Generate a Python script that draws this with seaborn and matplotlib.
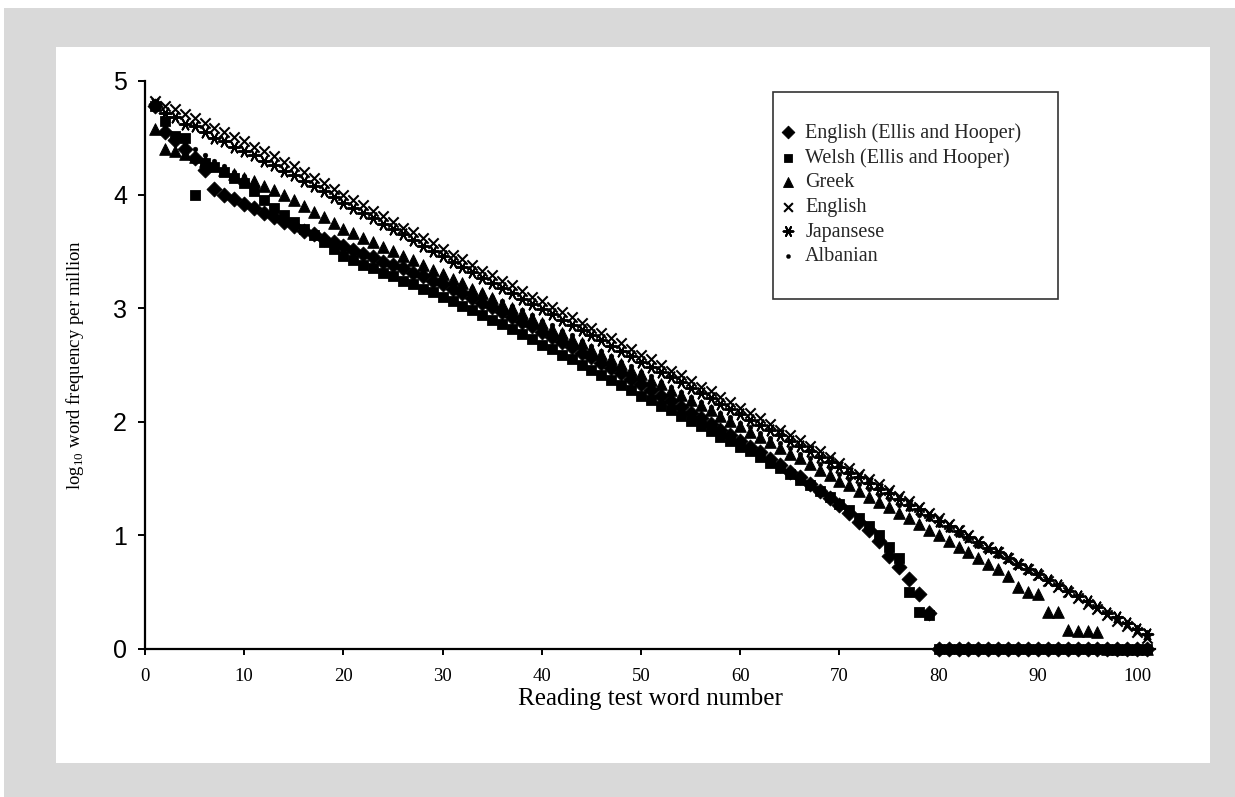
import numpy as np
import pandas as pd
import seaborn as sns
import matplotlib
matplotlib.use("Agg")
import matplotlib.pyplot as plt
from matplotlib.patches import Rectangle

# word number on the reading test
word = list(range(1, 102))

english_eh = [4.78, 4.55, 4.48, 4.40, 4.32, 4.22, 4.05, 4.00, 3.96, 3.92,
              3.88, 3.84, 3.80, 3.76, 3.72, 3.68, 3.65, 3.61, 3.58, 3.55,
              3.51, 3.48, 3.45, 3.41, 3.38, 3.35, 3.31, 3.28, 3.24, 3.21,
              3.17, 3.13, 3.09, 3.05, 3.01, 2.97, 2.92, 2.88, 2.84, 2.79,
              2.75, 2.70, 2.66, 2.61, 2.57, 2.52, 2.47, 2.43, 2.38, 2.33,
              2.28, 2.23, 2.18, 2.13, 2.08, 2.03, 1.98, 1.93, 1.88, 1.83,
              1.78, 1.73, 1.67, 1.62, 1.56, 1.51, 1.45, 1.39, 1.33, 1.27,
              1.20, 1.12, 1.05, 0.95, 0.82, 0.72, 0.62, 0.48, 0.32, 0.00,
              0.00, 0.00, 0.00, 0.00, 0.00, 0.00, 0.00, 0.00, 0.00, 0.00,
              0.00, 0.00, 0.00, 0.00, 0.00, 0.00, 0.00, 0.00, 0.00, 0.00, 0.00]

welsh_eh = [4.78, 4.65, 4.52, 4.50, 4.00, 4.28, 4.24, 4.20, 4.15, 4.10,
            4.03, 3.95, 3.88, 3.82, 3.76, 3.70, 3.64, 3.58, 3.52, 3.46,
            3.42, 3.38, 3.35, 3.31, 3.28, 3.24, 3.21, 3.17, 3.14, 3.10,
            3.06, 3.02, 2.98, 2.94, 2.90, 2.86, 2.82, 2.77, 2.73, 2.68,
            2.64, 2.59, 2.55, 2.50, 2.46, 2.41, 2.37, 2.32, 2.28, 2.23,
            2.19, 2.14, 2.10, 2.05, 2.01, 1.96, 1.92, 1.87, 1.83, 1.78,
            1.74, 1.69, 1.64, 1.59, 1.54, 1.49, 1.44, 1.39, 1.34, 1.28,
            1.22, 1.15, 1.08, 1.00, 0.90, 0.80, 0.50, 0.33, 0.30, 0.00,
            0.00, 0.00, 0.00, 0.00, 0.00, 0.00, 0.00, 0.00, 0.00, 0.00,
            0.00, 0.00, 0.00, 0.00, 0.00, 0.00, 0.00, 0.00, 0.00, 0.00, 0.00]

greek = [4.58, 4.40, 4.38, 4.36, 4.33, 4.30, 4.26, 4.22, 4.18, 4.15,
         4.12, 4.08, 4.04, 4.00, 3.95, 3.90, 3.85, 3.80, 3.75, 3.70,
         3.66, 3.62, 3.58, 3.54, 3.50, 3.46, 3.42, 3.38, 3.34, 3.30,
         3.26, 3.22, 3.17, 3.13, 3.09, 3.04, 3.00, 2.96, 2.91, 2.87,
         2.82, 2.78, 2.73, 2.69, 2.64, 2.60, 2.55, 2.51, 2.46, 2.42,
         2.37, 2.33, 2.28, 2.24, 2.19, 2.15, 2.10, 2.05, 2.01, 1.96,
         1.91, 1.87, 1.82, 1.77, 1.72, 1.68, 1.63, 1.58, 1.53, 1.48,
         1.44, 1.39, 1.34, 1.29, 1.25, 1.20, 1.15, 1.10, 1.05, 1.00,
         0.95, 0.90, 0.85, 0.80, 0.75, 0.70, 0.64, 0.55, 0.50, 0.48,
         0.33, 0.33, 0.17, 0.16, 0.16, 0.15, 0.00, 0.00, 0.00, 0.00, 0.00]

english = [4.82, 4.78, 4.75, 4.71, 4.67, 4.63, 4.59, 4.55, 4.51, 4.47,
           4.42, 4.38, 4.34, 4.29, 4.25, 4.20, 4.15, 4.10, 4.05, 4.00,
           3.95, 3.91, 3.86, 3.81, 3.76, 3.71, 3.67, 3.62, 3.57, 3.52,
           3.47, 3.43, 3.38, 3.33, 3.29, 3.24, 3.20, 3.15, 3.10, 3.06,
           3.01, 2.97, 2.92, 2.87, 2.83, 2.78, 2.74, 2.69, 2.64, 2.59,
           2.55, 2.50, 2.45, 2.41, 2.36, 2.31, 2.27, 2.22, 2.17, 2.12,
           2.08, 2.03, 1.98, 1.93, 1.88, 1.84, 1.79, 1.74, 1.69, 1.64,
           1.59, 1.54, 1.50, 1.45, 1.40, 1.35, 1.30, 1.25, 1.20, 1.15,
           1.10, 1.05, 1.00, 0.95, 0.90, 0.85, 0.80, 0.75, 0.70, 0.65,
           0.60, 0.55, 0.50, 0.45, 0.40, 0.35, 0.30, 0.25, 0.20, 0.15, 0.10]

japanese = [4.80, 4.72, 4.68, 4.62, 4.60, 4.55, 4.50, 4.47, 4.42, 4.38,
            4.35, 4.30, 4.26, 4.21, 4.17, 4.12, 4.08, 4.03, 3.98, 3.93,
            3.88, 3.84, 3.79, 3.74, 3.70, 3.65, 3.60, 3.55, 3.50, 3.46,
            3.41, 3.36, 3.32, 3.27, 3.22, 3.18, 3.13, 3.08, 3.04, 2.99,
            2.95, 2.90, 2.85, 2.81, 2.76, 2.72, 2.67, 2.62, 2.58, 2.53,
            2.48, 2.44, 2.39, 2.35, 2.30, 2.25, 2.21, 2.16, 2.11, 2.07,
            2.02, 1.97, 1.93, 1.88, 1.83, 1.79, 1.74, 1.69, 1.65, 1.60,
            1.55, 1.51, 1.46, 1.41, 1.37, 1.32, 1.27, 1.23, 1.18, 1.13,
            1.08, 1.04, 0.99, 0.94, 0.89, 0.85, 0.80, 0.75, 0.70, 0.66,
            0.61, 0.56, 0.51, 0.47, 0.42, 0.37, 0.32, 0.28, 0.23, 0.18, 0.13]

albanian = [4.75, 4.60, 4.52, 4.45, 4.40, 4.35, 4.30, 4.25, 4.20, 4.16,
            4.12, 4.07, 4.02, 3.98, 3.93, 3.88, 3.84, 3.79, 3.74, 3.70,
            3.66, 3.62, 3.58, 3.54, 3.50, 3.46, 3.42, 3.38, 3.34, 3.30,
            3.26, 3.22, 3.18, 3.14, 3.10, 3.06, 3.02, 2.98, 2.94, 2.89,
            2.85, 2.80, 2.76, 2.71, 2.67, 2.62, 2.58, 2.53, 2.49, 2.44,
            2.40, 2.35, 2.31, 2.26, 2.22, 2.17, 2.13, 2.08, 2.04, 1.99,
            1.95, 1.90, 1.86, 1.81, 1.77, 1.72, 1.68, 1.63, 1.59, 1.54,
            1.50, 1.45, 1.41, 1.36, 1.32, 1.27, 1.23, 1.18, 1.14, 1.09,
            1.05, 1.00, 0.96, 0.91, 0.87, 0.82, 0.78, 0.73, 0.69, 0.64,
            0.60, 0.55, 0.51, 0.46, 0.42, 0.37, 0.33, 0.28, 0.24, 0.19, 0.15]

labels = ["English (Ellis and Hooper)", "Welsh (Ellis and Hooper)", "Greek",
          "English", "Japansese", "Albanian"]
series = [english_eh, welsh_eh, greek, english, japanese, albanian]

sns.set_style("ticks")
plt.rcParams["font.family"] = ["Liberation Serif", "DejaVu Serif"]
plt.rcParams["mathtext.fontset"] = "custom"
plt.rcParams["mathtext.rm"] = "Liberation Serif"

W, H = 1235, 797
fig = plt.figure(figsize=(W / 100, H / 100), dpi=100)
fig.patch.set_facecolor("white")
# grey frame and white panel
fig.patches.append(Rectangle((4 / W, 0), 1 - 4 / W, 1 - 8 / H, transform=fig.transFigure,
                             facecolor="#d9d9d9", edgecolor="none", zorder=-3))
fig.patches.append(Rectangle((56 / W, 1 - 763 / H), (1210 - 56) / W, (763 - 47) / H,
                             transform=fig.transFigure, facecolor="white",
                             edgecolor="none", zorder=-2))

ax = fig.add_axes([145 / W, 1 - 649 / H, (1155 - 145) / W, (649 - 81) / H])
ax.patch.set_alpha(0)

styles = [
    dict(marker="D", s=58),
    dict(marker="s", s=52),
    dict(marker="^", s=70),
    dict(marker="x", s=55, linewidth=1.5),
    dict(marker=(6, 2, 90), s=70, linewidth=1.4),
    dict(marker="o", s=12),
]

for vals, lab, st in zip(series, labels, styles):
    sns.scatterplot(x=word, y=vals, ax=ax, color="black", edgecolor="black",
                    label=lab, legend=False, clip_on=False, zorder=3, **st)

ax.set_xlim(0, 101.8)
ax.set_ylim(0, 5)
ax.set_xticks(np.arange(0, 101, 10))
ax.set_yticks(np.arange(0, 6, 1))
sns.despine(ax=ax)
for sp in ["left", "bottom"]:
    ax.spines[sp].set_linewidth(1.6)
    ax.spines[sp].set_color("black")

ax.tick_params(axis="x", direction="out", length=4, width=1.4, pad=10,
               labelsize=13.5, colors="black")
ax.tick_params(axis="y", direction="out", length=5, width=1.4, pad=8,
               labelsize=18, colors="black")
for t in ax.get_yticklabels():
    t.set_fontfamily("Liberation Sans")

ax.set_xlabel("Reading test word number", fontsize=18, color="black")
ax.xaxis.set_label_coords(0.5, (649 - 688) / 568)
ax.set_ylabel(r"$\mathrm{log}_{10}$ word frequency per million", fontsize=13.5, color="black")
ax.yaxis.set_label_coords((86 - 145) / 1010, 0.5)

# legend box
ax.add_patch(Rectangle((773 / W, 1 - 299 / H), (1058 - 773) / W, (299 - 92) / H,
                       transform=fig.transFigure, facecolor="white", clip_on=False,
                       edgecolor="#333333", linewidth=1.2, zorder=4))
leg = ax.legend(loc="upper left", bbox_to_anchor=(782 / W, 1 - 123 / H),
                bbox_transform=fig.transFigure, frameon=False, fontsize=14.5,
                handlelength=0.6, handletextpad=0.55, labelspacing=0.27,
                markerscale=0.85, borderpad=0, borderaxespad=0)
leg.set_zorder(5)

fig.savefig("out.png", dpi=100)
